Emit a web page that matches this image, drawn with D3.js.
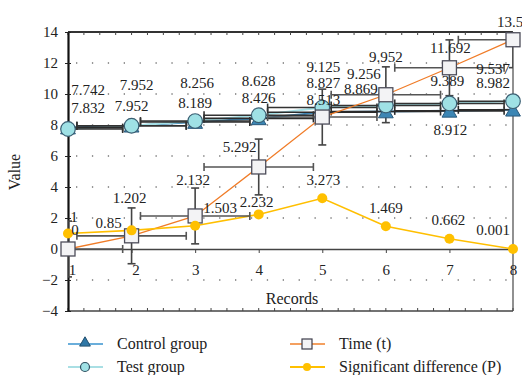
<!DOCTYPE html>
<html>
<head>
<meta charset="utf-8">
<script src="https://cdn.jsdelivr.net/npm/d3@7"></script>
<style>
  body { margin: 0; background: #fff; }
</style>
</head>
<body>
<div id="graph"></div>
<script>
// data
records = [1, 2, 3, 4, 5, 6, 7, 8];
controlGroup = [7.832, 7.952, 8.189, 8.426, 8.827, 8.869, 8.912, 8.982];
testGroup = [7.742, 7.952, 8.256, 8.628, 9.125, 9.256, 9.389, 9.537];
timeT = [0, 0.85, 2.132, 5.292, 8.513, 9.952, 11.692, 13.5];
sigP = [1, 1.202, 1.503, 2.232, 3.273, 1.469, 0.662, 0.001];
yTicks = [-4, -2, 0, 2, 4, 6, 8, 10, 12, 14];
errX = 0.86;      // horizontal error bars
errTimeY = 1.8;   // vertical error bars of time

// label offsets (pixels) per point
offTest = [[20,-34],[5,-36],[2,-33],[0,-29],[1,-36],[-22,-27],[-2,-17],[-20,-27]];
offControl = [[20,-15],[0,-15],[0,-14],[0,-15],[1,-24],[-25,-18],[1,24],[-20,-22]];
offTime = [[7,-14],[-23,-8],[-2,-31],[-19,-15],[1,-12],[0,-33],[1,-15],[-3,-13]];
offP = [[6,-12],[-2,-27],[25,-13],[-2,-7],[1,-13],[0,-13],[-1,-14],[-20,-14]];

FONT = "'Liberation Serif', 'Times New Roman', 'DejaVu Serif', serif";
W = 522; H = 375;
svg = d3.select("#graph").append("svg").attr("width", W).attr("height", H)
  .style("font-family", FONT);

x = d3.scaleLinear().domain([1, 8]).range([68, 513]);
y = d3.scaleLinear().domain([-4, 14]).range([311, 32]);

svg.append("clipPath").attr("id", "clip")
  .append("rect").attr("x", x(1)).attr("y", y(14) - 1).attr("width", x(8) - x(1)).attr("height", y(-4) - y(14) + 2);

// dotted grid
svg.append("g").selectAll("line").data(yTicks.filter(d => d != 0 && d != 14 && d != -4)).enter()
  .append("line")
  .attr("x1", x(1) + 8).attr("x2", x(8))
  .attr("y1", d => y(d)).attr("y2", d => y(d))
  .attr("stroke", "#777").attr("stroke-width", 1.3).attr("stroke-dasharray", "1.3,14.6");

// frame : top, bottom, right
svg.append("line").attr("x1", x(1)).attr("x2", x(8)).attr("y1", y(14)).attr("y2", y(14)).attr("stroke", "#333").attr("stroke-width", 1.8);
svg.append("line").attr("x1", x(1)).attr("x2", x(8)).attr("y1", y(-4)).attr("y2", y(-4)).attr("stroke", "#444").attr("stroke-width", 1.5);
svg.append("line").attr("x1", x(8)).attr("x2", x(8)).attr("y1", y(14)).attr("y2", y(-4)).attr("stroke", "#555").attr("stroke-width", 1.3);
minor = d3.range(1, 8.01, 0.25);
svg.append("g").selectAll("line").data(minor).enter().append("line")
  .attr("x1", d => x(d)).attr("x2", d => x(d)).attr("y1", y(14)).attr("y2", y(14) + 3)
  .attr("stroke", "#444");
svg.append("g").selectAll("line").data(minor).enter().append("line")
  .attr("x1", d => x(d)).attr("x2", d => x(d)).attr("y1", y(-4)).attr("y2", y(-4) - 3)
  .attr("stroke", "#444");

// Axe des Y
yAxis = svg.append("g").attr("transform", "translate(" + x(1) + ",0)")
  .call(d3.axisLeft(y).tickValues(yTicks).tickSize(0).tickPadding(10));
yAxis.attr("font-family", null);
yAxis.select(".domain").attr("stroke", "#111").attr("stroke-width", 2.2);
yAxis.selectAll("text").attr("font-size", 15).style("font-family", FONT).attr("fill", "#222");
yAxis.selectAll(".tick line").attr("x1", -3).attr("x2", 3).attr("stroke", "#222");

// Axe des X (crosses at 0)
xAxis = svg.append("g").attr("transform", "translate(0," + y(0) + ")")
  .call(d3.axisBottom(x).tickValues(records).tickSize(4).tickPadding(11).tickFormat(d3.format("d")));
xAxis.attr("font-family", null);
xAxis.select(".domain").attr("stroke", "#444").attr("stroke-width", 1.6);
xAxis.selectAll(".tick line").attr("stroke", "#444");
xAxis.selectAll("text").attr("font-size", 15).style("font-family", FONT).attr("fill", "#222")
  .attr("dx", (d, i) => i < 2 ? 4 : 0);

// titles
svg.append("text").attr("transform", "translate(20,172) rotate(-90)").attr("text-anchor", "middle")
  .attr("font-size", 16).attr("fill", "#222").text("Value");
svg.append("text").attr("x", 292).attr("y", 304).attr("text-anchor", "middle")
  .attr("font-size", 16).attr("fill", "#222").text("Records");

plot = svg.append("g").attr("clip-path", "url(#clip)");
line = d3.line().x((d, i) => x(records[i])).y(d => y(d));

function hErr(vals, color) {
  g = plot.append("g").attr("stroke", color).attr("stroke-width", 1.6);
  vals.forEach(function(v, i) {
    g.append("line").attr("x1", x(records[i] - errX)).attr("x2", x(records[i] + errX)).attr("y1", y(v)).attr("y2", y(v));
    [records[i] - errX, records[i] + errX].forEach(function(e) {
      g.append("line").attr("x1", x(e)).attr("x2", x(e)).attr("y1", y(v) - 4).attr("y2", y(v) + 4);
    });
  });
}

// lines
plot.append("path").attr("d", line(controlGroup)).attr("fill", "none").attr("stroke", "#3f86b5").attr("stroke-width", 2);
plot.append("path").attr("d", line(testGroup)).attr("fill", "none").attr("stroke", "#a6e0e6").attr("stroke-width", 2);
hErr(controlGroup, "#2b2b2b");
hErr(testGroup, "#333");

plot.append("path").attr("d", line(timeT)).attr("fill", "none").attr("stroke", "#f07c28").attr("stroke-width", 1.3);
plot.append("path").attr("d", line(sigP)).attr("fill", "none").attr("stroke", "#ffbf00").attr("stroke-width", 1.6);

// time error bars
hErr(timeT, "#555");
gv = plot.append("g").attr("stroke", "#444").attr("stroke-width", 1.6);
timeT.forEach(function(v, i) {
  gv.append("line").attr("x1", x(records[i])).attr("x2", x(records[i])).attr("y1", y(v - errTimeY)).attr("y2", y(v + errTimeY));
  [v - errTimeY, v + errTimeY].forEach(function(e) {
    gv.append("line").attr("x1", x(records[i]) - 4).attr("x2", x(records[i]) + 4).attr("y1", y(e)).attr("y2", y(e));
  });
});

// markers
tri = d3.symbol().type(d3.symbolTriangle).size(95);
svg.append("g").selectAll("path").data(controlGroup).enter().append("path")
  .attr("d", tri).attr("transform", (d, i) => "translate(" + x(records[i]) + "," + (y(d) + 2) + ")")
  .attr("fill", "#3c86b4").attr("stroke", "#2a5a7c").attr("stroke-width", 1);
svg.append("g").selectAll("circle").data(testGroup).enter().append("circle")
  .attr("cx", (d, i) => x(records[i])).attr("cy", d => y(d)).attr("r", 7.3)
  .attr("fill", "#9fe1e5").attr("stroke", "#3a5e72").attr("stroke-width", 1.2);
svg.append("g").selectAll("rect").data(timeT).enter().append("rect")
  .attr("x", (d, i) => x(records[i]) - 7).attr("y", d => y(d) - 7).attr("width", 14).attr("height", 14)
  .attr("fill", "#f3f3f5").attr("stroke", "#4d4d5a").attr("stroke-width", 1.3);
svg.append("g").selectAll("circle").data(sigP).enter().append("circle")
  .attr("cx", (d, i) => x(records[i])).attr("cy", d => y(d)).attr("r", 5)
  .attr("fill", "#ffc000");

// data labels
function labels(vals, off) {
  svg.append("g").selectAll("text").data(vals).enter().append("text")
    .attr("x", (d, i) => x(records[i]) + off[i][0]).attr("y", (d, i) => y(d) + off[i][1])
    .attr("text-anchor", "middle").attr("font-size", 15).attr("fill", "#222")
    .text(d => String(d));
}
labels(testGroup, offTest);
labels(controlGroup, offControl);
labels(timeT, offTime);
labels(sigP, offP);

// legend
legend = [
  {name: "Control group", col: 0, row: 0, line: "#6aaedb", mark: "tri"},
  {name: "Test group", col: 0, row: 1, line: "#a9dfe4", mark: "circ"},
  {name: "Time (t)", col: 1, row: 0, line: "#f4a060", mark: "sq"},
  {name: "Significant difference (P)", col: 1, row: 1, line: "#ffc000", mark: "dot"}
];
lg = svg.append("g");
legend.forEach(function(d) {
  lx = d.col == 0 ? 68 : 290;
  ly = d.row == 0 ? 344 : 367;
  lg.append("line").attr("x1", lx).attr("x2", lx + 35).attr("y1", ly).attr("y2", ly).attr("stroke", d.line).attr("stroke-width", 1.8);
  if (d.mark == "tri") lg.append("path").attr("d", d3.symbol().type(d3.symbolTriangle).size(50)).attr("transform", "translate(" + (lx + 17) + "," + (ly - 1) + ")").attr("fill", "#2f77a6").attr("stroke", "#234f6e");
  if (d.mark == "circ") lg.append("circle").attr("cx", lx + 17).attr("cy", ly).attr("r", 4.5).attr("fill", "#9fe1e5").attr("stroke", "#2f4f5f").attr("stroke-width", 1.2);
  if (d.mark == "sq") lg.append("rect").attr("x", lx + 12).attr("y", ly - 5).attr("width", 10).attr("height", 10).attr("fill", "#f3f3f5").attr("stroke", "#3d3d4a").attr("stroke-width", 1.2);
  if (d.mark == "dot") lg.append("circle").attr("cx", lx + 17).attr("cy", ly).attr("r", 4).attr("fill", "#ffc000");
  lg.append("text").attr("x", lx + 49).attr("y", ly + 5).attr("font-size", 16).attr("fill", "#222").text(d.name);
});
</script>
</body>
</html>
